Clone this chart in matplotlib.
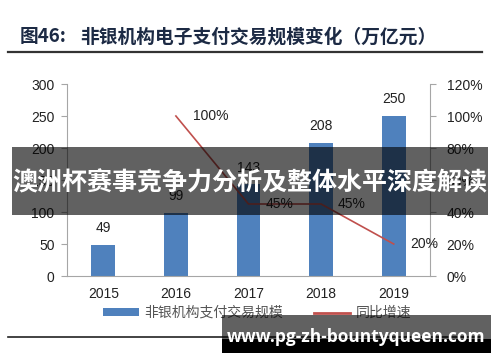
import matplotlib
matplotlib.use("Agg")
import matplotlib.pyplot as plt
from matplotlib.patches import Rectangle, Patch
from matplotlib.lines import Line2D

# Données du graphique
annees = ["2015", "2016", "2017", "2018", "2019"]
volume = [49, 99, 143, 208, 250]            # 万亿元
croissance = [None, 100, 45, 45, 20]       # %
croissance_labels = ["", "100%", "45%", "45%", "20%"]
gauche_ticks = [0, 50, 100, 150, 200, 250, 300]
droite_ticks = [0, 20, 40, 60, 80, 100, 120]

cjk = ["Noto Sans CJK SC", "DejaVu Sans"]
num = ["Liberation Sans", "DejaVu Sans"]
bleu = "#4f81bd"
rouge = "#c0504d"
gris = "#a6a6a6"

W, H = 500, 362
fig = plt.figure(figsize=(W / 100, H / 100), dpi=100)

def fx(px):
    return px / W

def fy(py):
    return 1 - py / H

# Titre et ligne de séparation
fig.text(fx(20), fy(37), "图46:", family=cjk, fontsize=13.5, fontweight="bold",
         color="#1c2a44", va="center", ha="left")
fig.text(fx(80), fy(37), "非银机构电子支付交易规模变化（万亿元）",
         family=cjk, fontsize=13.5, fontweight="bold", color="#1c2a44",
         va="center", ha="left")
fig.add_artist(Line2D([fx(8), fx(482)], [fy(51.5), fy(51.5)], color="#333333", lw=1.6))
fig.add_artist(Line2D([fx(8), fx(482)], [fy(337), fy(337)], color="#222222", lw=1.2))

# Axe principal (barres)
ax = fig.add_axes([fx(67), fy(276), fx(430) - fx(67), fy(84) - fy(276)])
x = range(len(annees))
ax.bar(x, volume, width=0.33, color=bleu, zorder=2)
for i, v in enumerate(volume):
    ax.annotate(str(v), (i, v), xytext=(0, 12), textcoords="offset points",
                ha="center", va="center", family=num, fontsize=10, color="#222222")

ax.set_xlim(-0.5, 4.5)
ax.set_ylim(0, 300)
ax.set_yticks(gauche_ticks)
ax.set_xticks(list(x))
ax.set_xticklabels(annees)
for s in ["top", "right"]:
    ax.spines[s].set_visible(False)
ax.spines["left"].set_color(gris)
ax.spines["bottom"].set_color(gris)
ax.tick_params(axis="y", length=4, color=gris, pad=5, labelsize=10)
ax.tick_params(axis="x", length=0, pad=8, labelsize=10)
for lab in ax.get_xticklabels() + ax.get_yticklabels():
    lab.set_family(num)
    lab.set_color("#222222")

# Axe secondaire (croissance)
ax2 = ax.twinx()
xs = [i for i, c in enumerate(croissance) if c is not None]
ys = [c for c in croissance if c is not None]
ax2.plot(xs, ys, color=rouge, lw=1.2, zorder=3)
for i, c in enumerate(croissance):
    if c is not None:
        ax2.annotate(croissance_labels[i], (i, c), xytext=(12, 0), textcoords="offset points",
                     ha="left", va="center", family=num, fontsize=10, color="#222222")
ax2.set_ylim(0, 120)
ax2.set_yticks(droite_ticks)
ax2.set_yticklabels([f"{t}%" for t in droite_ticks])
for s in ["top", "left", "bottom"]:
    ax2.spines[s].set_visible(False)
ax2.spines["right"].set_color(gris)
ax2.tick_params(axis="y", length=4, color=gris, pad=8, labelsize=10)
for lab in ax2.get_yticklabels():
    lab.set_family(num)
    lab.set_color("#222222")

# Légende
handles = [Patch(facecolor=bleu, edgecolor="none"),
           Line2D([0], [0], color=rouge, lw=2)]
fig.legend(handles, ["非银机构支付交易规模", "同比增速"], loc="center",
           bbox_to_anchor=(fx(257), fy(313)), ncol=2, frameon=False,
           prop={"family": cjk, "size": 10}, labelcolor="#555555",
           handlelength=2.6, handleheight=0.5, columnspacing=2.2, handletextpad=0.4)

# Bandeau superposé
fig.add_artist(Rectangle((fx(12), fy(215)), fx(488) - fx(12), fy(147) - fy(215),
                         transform=fig.transFigure, facecolor="black", alpha=0.62,
                         edgecolor="none", zorder=10))
fig.text(fx(250), fy(183), "澳洲杯赛事竞争力分析及整体水平深度解读", family=cjk,
         fontsize=18, fontweight="bold", color="white", ha="center", va="center", zorder=11)

# Filigrane
fig.add_artist(Rectangle((fx(222), fy(339)), fx(491) - fx(222), fy(315) - fy(339),
                         transform=fig.transFigure, facecolor="black", alpha=0.62,
                         edgecolor="none", zorder=10))
fig.add_artist(Rectangle((fx(222), fy(353)), fx(491) - fx(222), fy(339) - fy(353),
                         transform=fig.transFigure, facecolor="black",
                         edgecolor="none", zorder=10))
fig.text(fx(356), fy(337), "www.pg-zh-bountyqueen.com", family=["Open Sans", "DejaVu Sans"],
         fontsize=12.5, fontweight="bold", color="white", ha="center", va="center", zorder=11)

fig.savefig("out.png", dpi=100)
